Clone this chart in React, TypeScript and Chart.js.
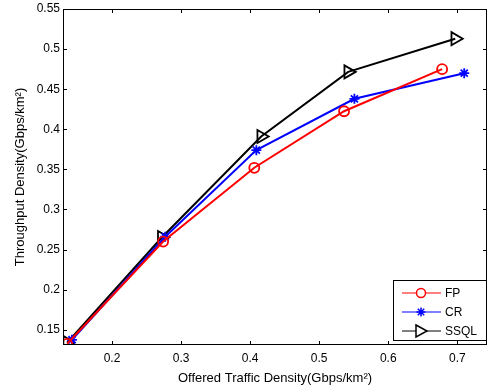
import React, { useEffect, useRef } from "react";
import { Chart, registerables } from "chart.js";

Chart.register(...registerables);

const fpX = [0.135, 0.274, 0.406, 0.536, 0.678];
const fpY = [0.1325, 0.26, 0.352, 0.4225, 0.475];
const crX = [0.142, 0.277, 0.409, 0.551, 0.71];
const crY = [0.1375, 0.266, 0.374, 0.438, 0.47];
const ssqlX = [0.135, 0.272, 0.416, 0.542, 0.697];
const ssqlY = [0.134, 0.265, 0.391, 0.4716, 0.513];

const xTicks = [0.2, 0.3, 0.4, 0.5, 0.6, 0.7];
const xTickLabels = ["0.2", "0.3", "0.4", "0.5", "0.6", "0.7"];
const yTicks = [0.15, 0.2, 0.25, 0.3, 0.35, 0.4, 0.45, 0.5, 0.55];
const yTickLabels = ["0.15", "0.2", "0.25", "0.3", "0.35", "0.4", "0.45", "0.5", "0.55"];

const seriesNames = ["FP", "CR", "SSQL"];
const seriesColors = ["#ff0000", "#0000ff", "#000000"];
const FONT = "Liberation Sans, Arial, Helvetica, sans-serif";

const toPts = (xs: number[], ys: number[]) => xs.map((x, i) => ({ x, y: ys[i] }));

const boxPlugin = {
  id: "matlabBox",
  afterDraw(chart: any) {
    const { ctx, chartArea: a, scales } = chart;
    ctx.save();
    ctx.strokeStyle = "#000";
    ctx.lineWidth = 1;
    ctx.strokeRect(a.left + 0.5, a.top + 0.5, a.right - a.left - 1, a.bottom - a.top - 1);
    const tl = 4;
    ctx.beginPath();
    xTicks.forEach((v) => {
      const px = Math.round(scales.x.getPixelForValue(v)) + 0.5;
      ctx.moveTo(px, a.bottom);
      ctx.lineTo(px, a.bottom - tl);
      ctx.moveTo(px, a.top);
      ctx.lineTo(px, a.top + tl);
    });
    yTicks.forEach((v) => {
      const py = Math.round(scales.y.getPixelForValue(v)) + 0.5;
      ctx.moveTo(a.left, py);
      ctx.lineTo(a.left + tl, py);
      ctx.moveTo(a.right, py);
      ctx.lineTo(a.right - tl, py);
    });
    ctx.stroke();

    // legend
    const lx = 393, ly = 280, lw = a.right - lx, lh = 61;
    ctx.fillStyle = "#fff";
    ctx.fillRect(lx, ly, lw, lh);
    ctx.strokeRect(lx + 0.5, ly + 0.5, lw - 1, lh - 1);
    const rows = [293, 312, 331];
    chart.data.datasets.forEach((ds: any, i: number) => {
      const y = rows[i];
      ctx.strokeStyle = seriesColors[i];
      ctx.lineWidth = 1;
      ctx.beginPath();
      ctx.moveTo(402, y);
      ctx.lineTo(441, y);
      ctx.stroke();
      ctx.lineWidth = 1.5;
      ctx.beginPath();
      if (i === 0) {
        ctx.arc(421, y, 4.5, 0, Math.PI * 2);
        ctx.fillStyle = "#fff";
        ctx.fill();
        ctx.stroke();
      } else if (i === 1) {
        const r = 4.5;
        for (let k = 0; k < 4; k++) {
          const ang = (k * Math.PI) / 4;
          ctx.moveTo(421 - r * Math.cos(ang), y - r * Math.sin(ang));
          ctx.lineTo(421 + r * Math.cos(ang), y + r * Math.sin(ang));
        }
        ctx.stroke();
      } else {
        ctx.moveTo(416, y - 6);
        ctx.lineTo(427, y);
        ctx.lineTo(416, y + 6);
        ctx.closePath();
        ctx.fillStyle = "#fff";
        ctx.fill();
        ctx.stroke();
      }
      ctx.fillStyle = "#000";
      ctx.font = `12px ${FONT}`;
      ctx.textBaseline = "middle";
      ctx.textAlign = "left";
      ctx.fillText(ds.label, 445, y + 1);
    });
    ctx.restore();
  },
};

export default function App() {
  const ref = useRef<HTMLCanvasElement>(null);
  useEffect(() => {
    document.body.style.margin = "0";
    const mk = (i: number, xs: number[], ys: number[], style: string, radius: number, rot = 0) => ({
      label: seriesNames[i],
      data: toPts(xs, ys),
      borderColor: seriesColors[i],
      backgroundColor: "rgba(255,255,255,0)",
      pointBorderColor: seriesColors[i],
      pointBackgroundColor: "rgba(255,255,255,0)",
      borderWidth: 2,
      pointBorderWidth: 1.8,
      pointStyle: style,
      pointRadius: radius,
      pointRotation: rot,
      tension: 0,
      fill: false,
    });
    const chart = new Chart(ref.current!, {
      type: "line",
      data: {
        datasets: [
          mk(0, fpX, fpY, "circle", 5),
          mk(1, crX, crY, "star", 5),
          mk(2, ssqlX, ssqlY, "triangle", 7.5, 90),
        ],
      },
      options: {
        animation: false,
        responsive: false,
        layout: { autoPadding: false, padding: { top: 9, right: 3, left: 0, bottom: 0 } },
        plugins: { legend: { display: false }, tooltip: { enabled: false } },
        scales: {
          x: {
            type: "linear",
            min: 0.129,
            max: 0.743,
            grid: { display: false, drawTicks: false },
            border: { display: false },
            afterFit: (s: any) => { s.height = 42; s.paddingLeft = 0; s.paddingRight = 0; },
            afterBuildTicks: (s: any) => { s.ticks = xTicks.map((v) => ({ value: v })); },
            ticks: {
              color: "#000",
              font: { family: FONT, size: 12 },
              padding: 6,
              maxRotation: 0,
              autoSkip: false,
              callback: (v: any) => { const i = xTicks.findIndex((t) => Math.abs(t - v) < 1e-9); return i >= 0 ? xTickLabels[i] : ""; },
            },
            title: {
              display: true,
              text: "Offered Traffic Density(Gbps/km²)",
              color: "#000",
              font: { family: FONT, size: 13 },
              padding: { top: 0, bottom: 1 },
            },
          },
          y: {
            type: "linear",
            min: 0.131,
            max: 0.55,
            grid: { display: false, drawTicks: false },
            border: { display: false },
            afterFit: (s: any) => { s.width = 63; s.paddingTop = 0; s.paddingBottom = 0; },
            afterBuildTicks: (s: any) => { s.ticks = yTicks.map((v) => ({ value: v })); },
            ticks: {
              color: "#000",
              font: { family: FONT, size: 12 },
              padding: 3,
              autoSkip: false,
              callback: (v: any) => { const i = yTicks.findIndex((t) => Math.abs(t - v) < 1e-9); return i >= 0 ? yTickLabels[i] : ""; },
            },
            title: {
              display: true,
              text: "Throughput Density(Gbps/km²)",
              color: "#000",
              font: { family: FONT, size: 13 },
              padding: { top: 13, bottom: 0 },
            },
          },
        },
      },
      plugins: [boxPlugin],
    } as any);
    return () => chart.destroy();
  }, []);
  return <canvas ref={ref} width={490} height={387} style={{ display: "block" }} />;
}
